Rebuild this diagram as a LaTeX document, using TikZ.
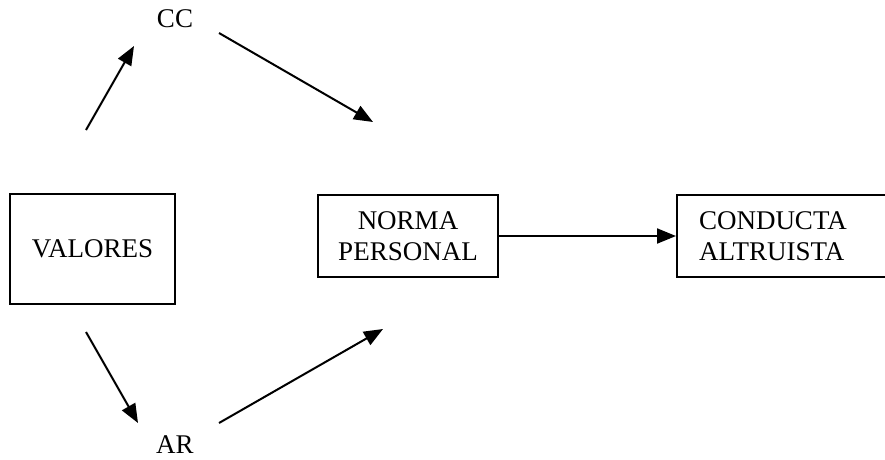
\documentclass[tikz,border=0pt]{standalone}
\usepackage{fontspec}
\setmainfont{Liberation Serif}
\usetikzlibrary{arrows.meta}
\begin{document}
\begin{tikzpicture}[x=1pt,y=-1pt,
  every node/.style={font=\fontsize{27}{31}\selectfont},
  box/.style={draw,line width=2pt,inner sep=0pt,align=center},
  link/.style={line width=2pt,-{Triangle[length=19pt,width=15pt]}},
  label/.style={inner sep=0pt}]
  \clip (0,0) rectangle (885,459);
  \fill[white] (0,0) rectangle (885,459);

  % boxes
  \node[box,minimum width=165pt,minimum height=110pt] (valores) at (92.5,249) {VALORES};
  \node[box,minimum width=180pt,minimum height=82pt] (norma) at (408,236) {NORMA\\PERSONAL};
  \node[box,anchor=west,minimum height=82pt,text width=200pt,inner xsep=22pt,align=left]
    (conducta) at (676,236) {CONDUCTA\\ALTRUISTA};

  % labels
  \node[label,anchor=base] (cc) at (175,27) {CC};
  \node[label,anchor=base] (ar) at (175,453) {AR};

  % free ends of the connectors
  \coordinate (v1) at (86,130);
  \coordinate (cc1) at (134,46);
  \coordinate (cc2) at (219,33);
  \coordinate (n1) at (373,122);
  \coordinate (v2) at (86,332);
  \coordinate (ar1) at (138,423);
  \coordinate (ar2) at (219,423);
  \coordinate (n2) at (383,329);

  % connectors
  \draw[link] (v1) -- (cc1);
  \draw[link] (cc2) -- (n1);
  \draw[link] (v2) -- (ar1);
  \draw[link] (ar2) -- (n2);
  \draw[link] (norma.east) -- (conducta.west);
\end{tikzpicture}
\end{document}
